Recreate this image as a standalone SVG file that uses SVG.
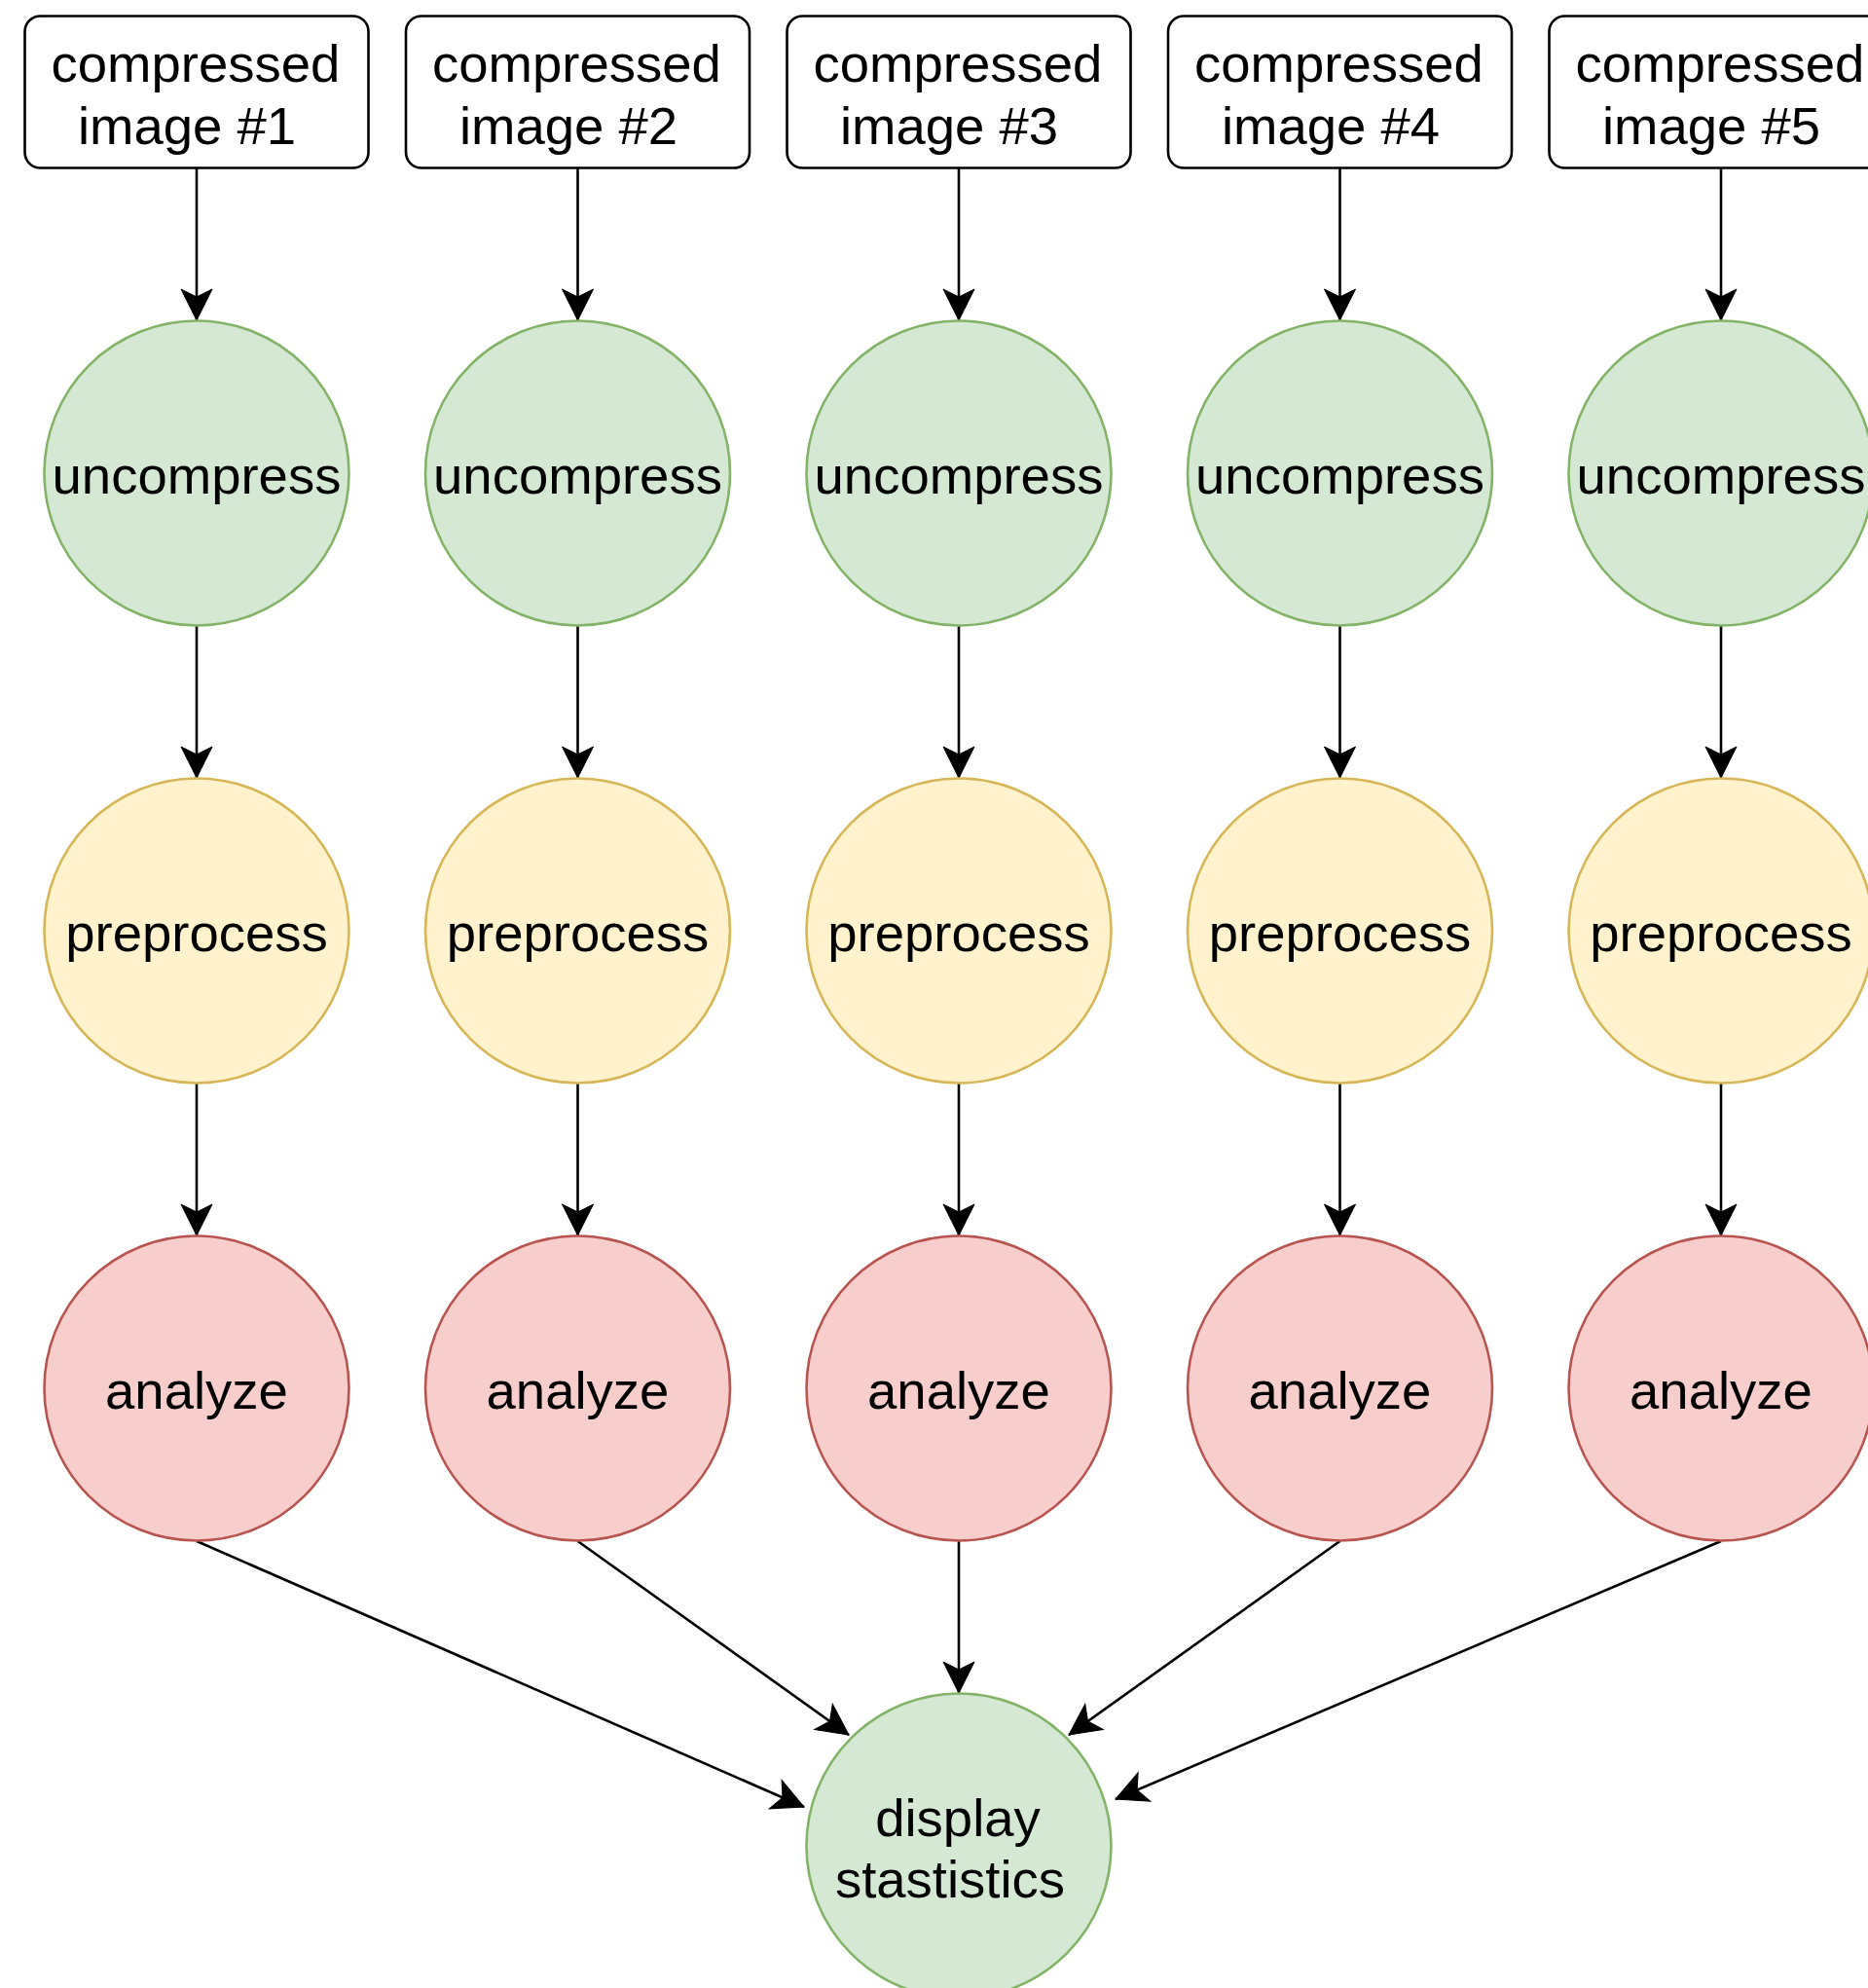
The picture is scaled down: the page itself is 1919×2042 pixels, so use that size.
<svg xmlns="http://www.w3.org/2000/svg" width="1919" height="2042" viewBox="0 0 1919 2042">
<style>
.box{fill:#fff;stroke:#000;stroke-width:2.6}
.g{fill:#d5e8d4;stroke:#82b366;stroke-width:2.6}
.y{fill:#fff2cc;stroke:#d6b656;stroke-width:2.6}
.r{fill:#f8cecc;stroke:#b85450;stroke-width:2.6}
text{font-family:"Liberation Sans",Arial,sans-serif;font-size:54.5px;fill:#000;text-anchor:middle}
.e{fill:none;stroke:#000;stroke-width:2.6}
</style>
<defs>
<marker id="arr" viewBox="-34 -18 36 36" markerWidth="36" markerHeight="36" refX="0" refY="0" orient="auto" markerUnits="userSpaceOnUse">
<path d="M0,0 L-32,-16 L-24,0 L-32,16 Z" fill="#000" stroke="#000" stroke-width="1"/>
</marker>
</defs>
<rect width="1919" height="2042" fill="#fff"/>
<g id="connectors">
<path class="e" marker-end="url(#arr)" d="M202,173 V329"/>
<path class="e" marker-end="url(#arr)" d="M593.5,173 V329"/>
<path class="e" marker-end="url(#arr)" d="M985,173 V329"/>
<path class="e" marker-end="url(#arr)" d="M1376.5,173 V329"/>
<path class="e" marker-end="url(#arr)" d="M1768,173 V329"/>
<path class="e" marker-end="url(#arr)" d="M202,643 V799"/>
<path class="e" marker-end="url(#arr)" d="M593.5,643 V799"/>
<path class="e" marker-end="url(#arr)" d="M985,643 V799"/>
<path class="e" marker-end="url(#arr)" d="M1376.5,643 V799"/>
<path class="e" marker-end="url(#arr)" d="M1768,643 V799"/>
<path class="e" marker-end="url(#arr)" d="M202,1113 V1269"/>
<path class="e" marker-end="url(#arr)" d="M593.5,1113 V1269"/>
<path class="e" marker-end="url(#arr)" d="M985,1113 V1269"/>
<path class="e" marker-end="url(#arr)" d="M1376.5,1113 V1269"/>
<path class="e" marker-end="url(#arr)" d="M1768,1113 V1269"/>
<path class="e" marker-end="url(#arr)" d="M202,1583 L826,1856"/>
<path class="e" marker-end="url(#arr)" d="M593.5,1583 L872,1782"/>
<path class="e" marker-end="url(#arr)" d="M985,1583 V1739"/>
<path class="e" marker-end="url(#arr)" d="M1376.5,1583 L1098,1782"/>
<path class="e" marker-end="url(#arr)" d="M1768,1583 L1146,1848"/>
</g>
<g id="img1"><rect class="box" x="25.5" y="16.5" width="353" height="156" rx="16"/><text x="201" y="84">compressed</text><text x="192" y="148">image #1</text></g>
<g id="img2"><rect class="box" x="417" y="16.5" width="353" height="156" rx="16"/><text x="592.5" y="84">compressed</text><text x="584" y="148">image #2</text></g>
<g id="img3"><rect class="box" x="808.5" y="16.5" width="353" height="156" rx="16"/><text x="984" y="84">compressed</text><text x="975" y="148">image #3</text></g>
<g id="img4"><rect class="box" x="1200" y="16.5" width="353" height="156" rx="16"/><text x="1375.5" y="84">compressed</text><text x="1367" y="148">image #4</text></g>
<g id="img5"><rect class="box" x="1591.5" y="16.5" width="353" height="156" rx="16"/><text x="1767" y="84">compressed</text><text x="1758" y="148">image #5</text></g>
<g id="unc1"><circle class="g" cx="202" cy="486" r="156.5"/><text x="202" y="507">uncompress</text></g>
<g id="unc2"><circle class="g" cx="593.5" cy="486" r="156.5"/><text x="593.5" y="507">uncompress</text></g>
<g id="unc3"><circle class="g" cx="985" cy="486" r="156.5"/><text x="985" y="507">uncompress</text></g>
<g id="unc4"><circle class="g" cx="1376.5" cy="486" r="156.5"/><text x="1376.5" y="507">uncompress</text></g>
<g id="unc5"><circle class="g" cx="1768" cy="486" r="156.5"/><text x="1768" y="507">uncompress</text></g>
<g id="pre1"><circle class="y" cx="202" cy="956" r="156.5"/><text x="202" y="977">preprocess</text></g>
<g id="pre2"><circle class="y" cx="593.5" cy="956" r="156.5"/><text x="593.5" y="977">preprocess</text></g>
<g id="pre3"><circle class="y" cx="985" cy="956" r="156.5"/><text x="985" y="977">preprocess</text></g>
<g id="pre4"><circle class="y" cx="1376.5" cy="956" r="156.5"/><text x="1376.5" y="977">preprocess</text></g>
<g id="pre5"><circle class="y" cx="1768" cy="956" r="156.5"/><text x="1768" y="977">preprocess</text></g>
<g id="ana1"><circle class="r" cx="202" cy="1426" r="156.5"/><text x="202" y="1447">analyze</text></g>
<g id="ana2"><circle class="r" cx="593.5" cy="1426" r="156.5"/><text x="593.5" y="1447">analyze</text></g>
<g id="ana3"><circle class="r" cx="985" cy="1426" r="156.5"/><text x="985" y="1447">analyze</text></g>
<g id="ana4"><circle class="r" cx="1376.5" cy="1426" r="156.5"/><text x="1376.5" y="1447">analyze</text></g>
<g id="ana5"><circle class="r" cx="1768" cy="1426" r="156.5"/><text x="1768" y="1447">analyze</text></g>
<g id="display"><circle class="g" cx="985" cy="1896" r="156.5"/><text x="984" y="1886">display</text><text x="976" y="1949">stastistics</text></g>
</svg>
